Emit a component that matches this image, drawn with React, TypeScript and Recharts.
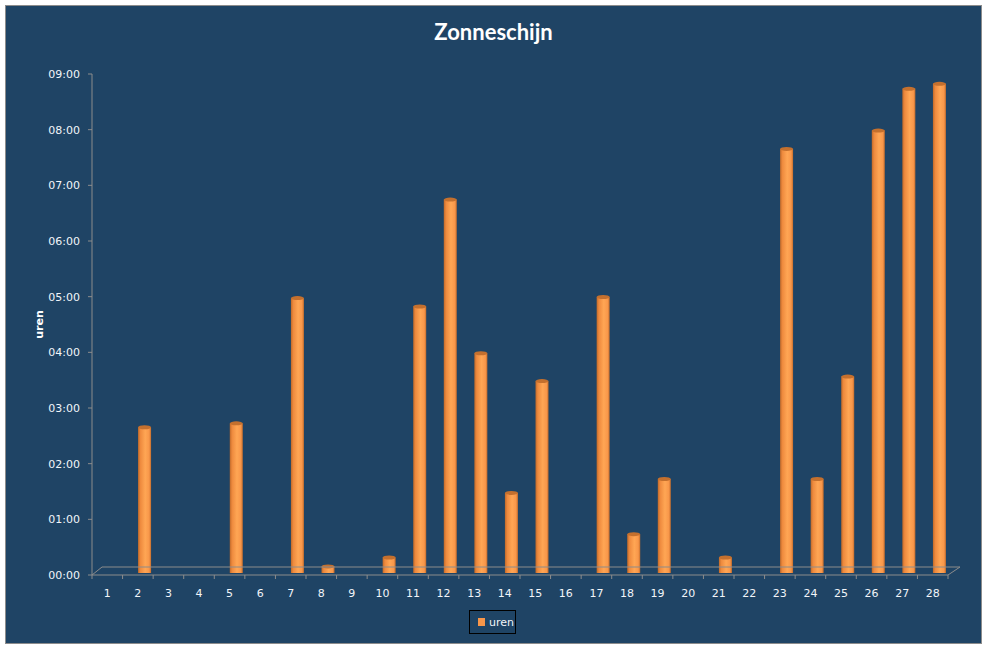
import React from 'react';
import { BarChart, Bar, XAxis, YAxis, Legend, ReferenceLine } from 'recharts';

// dagen van de maand en zonneschijn in uren (decimaal)
const days = [
  '1', '2', '3', '4', '5', '6', '7', '8', '9', '10', '11', '12', '13', '14',
  '15', '16', '17', '18', '19', '20', '21', '22', '23', '24', '25', '26', '27', '28',
];
const uren = [
  0, 2.6, 0, 0, 2.67, 0, 4.92, 0.1, 0, 0.26, 4.77, 6.69, 3.93, 1.42,
  3.43, 0, 4.94, 0.68, 1.67, 0, 0.26, 0, 7.6, 1.67, 3.51, 7.93, 8.68, 8.77,
];
const yTicks = [0, 1, 2, 3, 4, 5, 6, 7, 8, 9];

const data = days.map((d, i) => ({ dag: d, uren: uren[i] }));

const BG = '#1f4465';
const AXIS = '#8c8c8c';
const TXT = '#f2f5f9';
const FONT = '"DejaVu Sans", Tahoma, sans-serif';

const fmt = (v: number) => `${String(v).padStart(2, '0')}:00`;

// cilindervormige staaf, iets naar achteren geschoven (3D diepte)
const Cylinder = (props: any) => {
  const { x, y, width, height } = props;
  if (!height || height <= 0) return <g />;
  const w = 13;
  const cx = x + width / 2 + 6.5;
  const left = cx - w / 2;
  const top = y - 3;
  return (
    <g>
      <rect x={left} y={top} width={w} height={height + 1} fill="url(#cyl)" />
      <ellipse cx={cx} cy={top} rx={w / 2} ry={2} fill="#c4702e" />
    </g>
  );
};

// vloer van de 3D grafiek
const Floor = (props: any) => {
  const { x1, y1, x2 } = props;
  const pts = `${x1},${y1} ${x1 + 10},${y1 - 8} ${x2 + 12},${y1 - 8} ${x2},${y1}`;
  return <polyline points={pts} fill="none" stroke={AXIS} strokeWidth={1} />;
};

const XTick = (props: any) => {
  const { x, y, payload, index } = props;
  const off = payload?.offset ?? 15.3;
  const ay = y - 8;
  return (
    <g>
      <line x1={x - off} y1={ay} x2={x - off} y2={ay + 4} stroke={AXIS} />
      {index === days.length - 1 && (
        <line x1={x + off} y1={ay} x2={x + off} y2={ay + 4} stroke={AXIS} />
      )}
      <text x={x} y={y + 10} dy="0.355em" textAnchor="middle" fill={TXT} fontSize={11} fontFamily={FONT}>
        {payload.value}
      </text>
    </g>
  );
};

const LegendBox = () => (
  <div
    style={{
      border: '1px solid #000',
      width: 47,
      height: 24,
      boxSizing: 'border-box',
      display: 'flex',
      alignItems: 'center',
      fontFamily: FONT,
      fontSize: 11,
      color: TXT,
    }}
  >
    <span style={{ width: 7, height: 8, background: '#f7964a', marginLeft: 8, marginRight: 4 }} />
    <span>uren</span>
  </div>
);

export default function App() {
  return (
    <div
      style={{
        position: 'absolute',
        left: 5,
        top: 5,
        width: 975,
        height: 637,
        border: `1px solid ${AXIS}`,
        background: BG,
      }}
    >
      <div
        style={{
          position: 'absolute',
          top: 12,
          width: '100%',
          textAlign: 'center',
          color: '#fff',
          fontFamily: 'Lato, "Open Sans", sans-serif',
          fontWeight: 700,
          fontSize: 22,
        }}
      >
        Zonneschijn
      </div>
      <BarChart width={975} height={637} data={data} margin={{ top: 68, right: 33, left: 26, bottom: 38 }}>
        <defs>
          <linearGradient id="cyl" x1="0" y1="0" x2="1" y2="0">
            <stop offset="0%" stopColor="#c06a2a" />
            <stop offset="18%" stopColor="#ee8a3e" />
            <stop offset="55%" stopColor="#ffa654" />
            <stop offset="85%" stopColor="#f8974a" />
            <stop offset="100%" stopColor="#c46d2c" />
          </linearGradient>
        </defs>
        <ReferenceLine y={0} shape={Floor} />
        <XAxis
          dataKey="dag"
          height={30}
          axisLine={{ stroke: AXIS }}
          tickLine={false}
          interval={0}
          tick={<XTick />}
        />
        <YAxis
          width={60}
          domain={[0, 9]}
          ticks={yTicks}
          tickFormatter={fmt}
          axisLine={{ stroke: AXIS }}
          tickLine={{ stroke: AXIS }}
          tickSize={4}
          tickMargin={8}
          tick={{ fill: TXT, fontSize: 11, fontFamily: FONT }}
          label={{
            content: ({ viewBox }: any) => {
              const lx = viewBox.x + 7;
              const ly = viewBox.y + viewBox.height / 2;
              return (
                <text
                  x={lx}
                  y={ly}
                  transform={`rotate(-90 ${lx} ${ly})`}
                  textAnchor="middle"
                  dominantBaseline="central"
                  fill="#fff"
                  fontSize={11}
                  fontWeight={700}
                  fontFamily={FONT}
                >
                  uren
                </text>
              );
            },
          }}
        />
        <Legend
          layout="horizontal"
          align="center"
          verticalAlign="middle"
          wrapperStyle={{ left: 463, top: 604, width: 47 }}
          content={<LegendBox />}
        />
        <Bar dataKey="uren" barSize={13} shape={Cylinder} isAnimationActive={false} />
      </BarChart>
    </div>
  );
}
